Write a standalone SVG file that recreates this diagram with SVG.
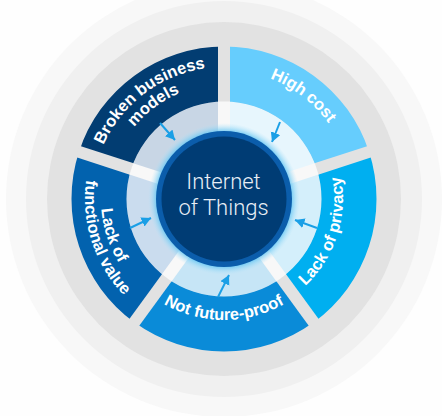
<svg xmlns="http://www.w3.org/2000/svg" xmlns:xlink="http://www.w3.org/1999/xlink" width="442" height="416" viewBox="0 0 442 416">
<style>
.lbl{font-family:"Liberation Sans",Arial,sans-serif;font-weight:bold;font-size:16.5px;fill:#ffffff}
.ctr{font-family:Roboto,"Liberation Sans",Arial,sans-serif;font-weight:300;font-size:22px;fill:#e8eef6}
.arr{stroke:#1a9fe6;stroke-width:2;fill:none;marker-end:url(#ah)}
</style>
<defs>
<path id="wedge" d="M134.36,75.63 A152.5,152.5 0 0 1 313.64,75.63 L281.31,120.12 A97.5,97.5 0 0 0 166.69,120.12 Z"/>
<path id="bandw" d="M224,199 L166.69,120.12 A97.5,97.5 0 0 1 281.31,120.12 Z"/>
<g id="gap">
<rect x="218" y="45" width="12" height="57" fill="#e2e2e2"/>
<rect x="218" y="101.5" width="12" height="40" fill="#f8f8f8"/>
</g>
<path id="tOut132" d="M94.0,176.08 A132,132 0 0 1 354.0,176.08"/>
<path id="tOut115" d="M110.75,179.03 A115,115 0 0 1 337.25,179.03"/>
<path id="tOut129" d="M96.96,176.6 A129,129 0 0 1 351.04,176.6"/>
<path id="tIn121" d="M104.84,220.01 A121,121 0 0 0 343.16,220.01"/>
<path id="tIn119" d="M106.81,219.66 A119,119 0 0 0 341.19,219.66"/>
<path id="tIn123" d="M102.87,220.36 A123,123 0 0 0 345.13,220.36"/>
<path id="tIn139" d="M87.11,223.14 A139,139 0 0 0 360.89,223.14"/>
<marker id="ah" markerWidth="11" markerHeight="11" refX="9.5" refY="5" orient="auto" markerUnits="userSpaceOnUse">
<path d="M0,0 L9.5,5 L0,10 Z" fill="#1a9fe6"/>
</marker>
<radialGradient id="glow" cx="224" cy="199" r="76" gradientUnits="userSpaceOnUse">
<stop offset="0.87" stop-color="#55c0f2" stop-opacity="0.95"/>
<stop offset="1" stop-color="#b5e4f8" stop-opacity="0"/>
</radialGradient>
</defs>
<rect width="442" height="416" fill="#fefefe"/>
<g id="background">
<circle cx="224" cy="199" r="218" fill="#f8f8f8"/>
<circle cx="224" cy="199" r="198" fill="#f0f0f0"/>
<circle cx="224" cy="199" r="177" fill="#e2e2e2"/>
<circle cx="224" cy="199" r="97.5" fill="#f8f8f8"/>
</g>
<g id="node-broken">
<use xlink:href="#bandw" href="#bandw" transform="rotate(-36 224 199)" fill="#c8d6e5"/>
<use xlink:href="#wedge" href="#wedge" transform="rotate(-36 224 199)" fill="#023d72"/>
<g transform="rotate(-37 224 199)">
<text class="lbl"><textPath xlink:href="#tOut132" href="#tOut132" startOffset="50%" text-anchor="middle">Broken business</textPath></text>
<text class="lbl"><textPath xlink:href="#tOut115" href="#tOut115" startOffset="50%" text-anchor="middle">models</textPath></text>
</g>
</g>
<g id="node-highcost">
<use xlink:href="#bandw" href="#bandw" transform="rotate(36 224 199)" fill="#e7f6fd"/>
<use xlink:href="#wedge" href="#wedge" transform="rotate(36 224 199)" fill="#66cdfd"/>
<g transform="rotate(37.5 224 199)">
<text class="lbl"><textPath xlink:href="#tOut129" href="#tOut129" startOffset="50%" text-anchor="middle">High cost</textPath></text>
</g>
</g>
<g id="node-privacy">
<use xlink:href="#bandw" href="#bandw" transform="rotate(108 224 199)" fill="#d4effb"/>
<use xlink:href="#wedge" href="#wedge" transform="rotate(108 224 199)" fill="#00aff0"/>
<g transform="rotate(-72 224 199)">
<text class="lbl"><textPath xlink:href="#tIn119" href="#tIn119" startOffset="50%" text-anchor="middle">Lack of privacy</textPath></text>
</g>
</g>
<g id="node-futureproof">
<use xlink:href="#bandw" href="#bandw" transform="rotate(180 224 199)" fill="#c6e5f6"/>
<use xlink:href="#wedge" href="#wedge" transform="rotate(180 224 199)" fill="#0a8bd8"/>
<text class="lbl"><textPath xlink:href="#tIn121" href="#tIn121" startOffset="50%" text-anchor="middle">Not future-proof</textPath></text>
</g>
<g id="node-functional">
<use xlink:href="#bandw" href="#bandw" transform="rotate(252 224 199)" fill="#cadcee"/>
<use xlink:href="#wedge" href="#wedge" transform="rotate(252 224 199)" fill="#0262ae"/>
<g transform="rotate(72 224 199)">
<text class="lbl"><textPath xlink:href="#tIn123" href="#tIn123" startOffset="50%" text-anchor="middle">Lack of</textPath></text>
<text class="lbl"><textPath xlink:href="#tIn139" href="#tIn139" startOffset="50%" text-anchor="middle">functional value</textPath></text>
</g>
</g>
<g id="gaps">
<use xlink:href="#gap" href="#gap"/>
<use xlink:href="#gap" href="#gap" transform="rotate(72 224 199)"/>
<use xlink:href="#gap" href="#gap" transform="rotate(144 224 199)"/>
<use xlink:href="#gap" href="#gap" transform="rotate(216 224 199)"/>
<use xlink:href="#gap" href="#gap" transform="rotate(288 224 199)"/>
</g>
<g id="node-iot">
<circle cx="224" cy="199" r="76" fill="url(#glow)"/>
<circle cx="224" cy="199" r="68" fill="#0b5dab"/>
<circle cx="224" cy="199" r="62.5" fill="#003c74"/>
<text class="ctr" x="223.5" y="189" text-anchor="middle">Internet</text>
<text class="ctr" x="223.5" y="215" text-anchor="middle">of Things</text>
</g>
<g id="connectors">
<line class="arr" x1="160" y1="123" x2="175" y2="140"/>
<line class="arr" x1="280" y1="122" x2="272" y2="142"/>
<line class="arr" x1="317" y1="228" x2="295" y2="220"/>
<line class="arr" x1="218" y1="297" x2="229" y2="275"/>
<line class="arr" x1="130" y1="228" x2="151" y2="218"/>
</g>
</svg>
